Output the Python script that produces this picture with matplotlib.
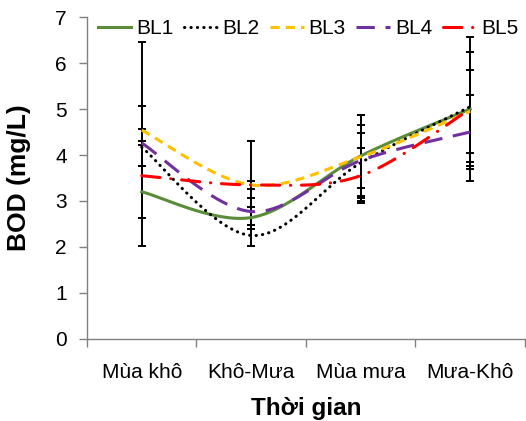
import numpy as np
import matplotlib.pyplot as plt

plt.rcParams['font.family'] = ['Liberation Sans', 'DejaVu Sans']

# Dữ liệu BOD theo thời gian
categories = ["Mùa khô", "Khô-Mưa", "Mùa mưa", "Mưa-Khô"]
series_names = ["BL1", "BL2", "BL3", "BL4", "BL5"]

bl1 = [3.20, 2.64, 3.98, 5.00]
bl2 = [4.17, 2.25, 3.83, 5.05]
bl3 = [4.54, 3.35, 3.96, 4.95]
bl4 = [4.26, 2.77, 3.88, 4.50]
bl5 = [3.55, 3.35, 3.55, 5.00]

err1 = [0.57, 0.24, 0.88, 1.56]
err2 = [0.40, 0.23, 0.83, 1.20]
err3 = [1.92, 0.95, 0.90, 0.90]
err4 = [0.05, 0.30, 0.60, 0.80]
err5 = [1.52, 0.08, 0.60, 1.24]

values = [bl1, bl2, bl3, bl4, bl5]
errors = [err1, err2, err3, err4, err5]
colors = ["#5B8C3A", "#000000", "#FFC000", "#7030A0", "#FF0000"]
styles = ["-", (0, (0.1, 2.0)), (0, (3, 2)), (0, (6, 3.5)), (0, (6, 3.5, 0.1, 3.5))]
caps = ["butt", "round", "butt", "butt", "round"]


def smooth(x, y, n=60):
    # đường cong kiểu Excel (Catmull-Rom -> Bezier)
    p = np.column_stack([x, y]).astype(float)
    ext = np.vstack([p[0], p, p[-1]])
    t = np.linspace(0, 1, n)[:, None]
    out = []
    for i in range(len(p) - 1):
        p0, p1, p2, p3 = ext[i], ext[i + 1], ext[i + 2], ext[i + 3]
        b1 = p1 + (p2 - p0) / 6
        b2 = p2 - (p3 - p1) / 6
        seg = ((1 - t) ** 3) * p1 + 3 * ((1 - t) ** 2) * t * b1 + 3 * (1 - t) * t ** 2 * b2 + t ** 3 * p2
        out.append(seg if i == 0 else seg[1:])
    out = np.vstack(out)
    return out[:, 0], out[:, 1]


fig = plt.figure(figsize=(5.26, 4.21), dpi=100)
ax = fig.add_axes([0.1654, 0.1948, 0.8326, 0.7648])

x = np.arange(len(categories))
for v, e in zip(values, errors):
    ax.errorbar(x, v, yerr=e, fmt='none', ecolor='black', elinewidth=1.4,
                capsize=3, capthick=1.4, zorder=2)

for name, v, c, ls, cs in zip(series_names, values, colors, styles, caps):
    xs, ys = smooth(x, v)
    ax.plot(xs, ys, color=c, linestyle=ls, linewidth=2.2, label=name,
            dash_capstyle=cs, zorder=3)

ax.set_xlim(-0.5, 3.5)
ax.set_ylim(0, 7)
ax.set_yticks(range(0, 8))
ax.set_xticks(x)
ax.set_xticklabels(categories)
ax.set_xticks(np.arange(-0.5, 4.0, 1.0), minor=True)
ax.tick_params(axis='x', which='major', length=0, labelsize=15, pad=17)
ax.tick_params(axis='x', which='minor', length=5.5, width=1, color='#808080', direction='out')
ax.tick_params(axis='y', length=5.5, width=1, color='#808080', labelsize=15, pad=9)

for s in ['top', 'right']:
    ax.spines[s].set_visible(False)
for s in ['left', 'bottom']:
    ax.spines[s].set_color('#808080')
    ax.spines[s].set_linewidth(1)

ax.set_xlabel("Thời gian", fontsize=17.5, fontweight='bold')
ax.set_ylabel("BOD (mg/L)", fontsize=19, fontweight='bold')
ax.xaxis.set_label_coords(0.5, -0.18)
ax.yaxis.set_label_coords(-0.128, 0.5)

ax.legend(loc='upper center', bbox_to_anchor=(0.505, 1.019), ncol=5, frameon=False,
          fontsize=15, handlelength=1.6, handletextpad=0.25, columnspacing=0.5,
          borderaxespad=0)

plt.savefig("out.png", dpi=100)
